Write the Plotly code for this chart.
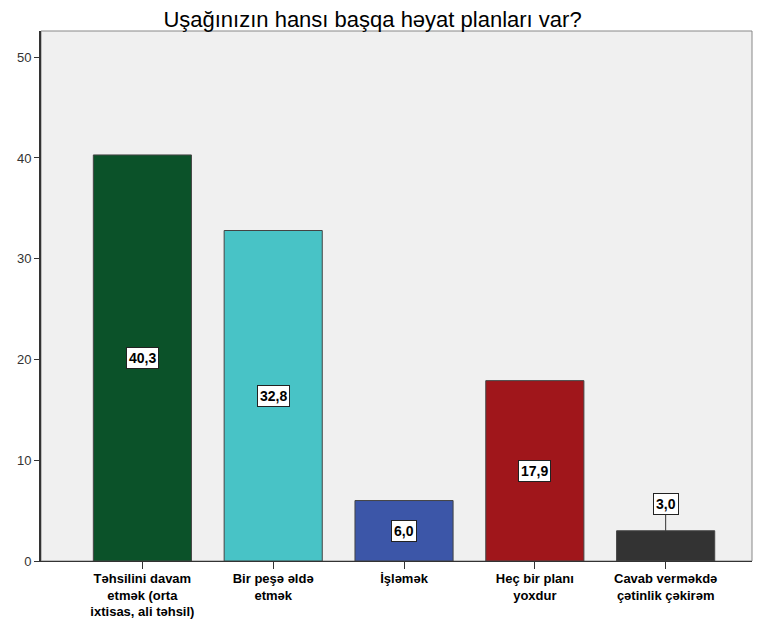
import plotly.graph_objects as go

categories = ["Təhsilini davam<br>etmək (orta<br>ixtisas, ali təhsil)",
              "Bir peşə əldə<br>etmək",
              "İşləmək",
              "Heç bir planı<br>yoxdur",
              "Cavab verməkdə<br>çətinlik çəkirəm"]
values = [40.3, 32.8, 6.0, 17.9, 3.0]
labels = ["40,3", "32,8", "6,0", "17,9", "3,0"]
colors = ["#0b5229", "#48c3c6", "#3c56a8", "#a0161b", "#333333"]
yticks = [0, 10, 20, 30, 40, 50]

FONT = "Liberation Sans, Arial"
xs = list(range(len(categories)))
fig = go.Figure()
fig.add_trace(go.Bar(x=xs, y=values, width=0.75,
                     marker=dict(color=colors, line=dict(color="#444444", width=1)),
                     hoverinfo="skip"))

for i, (v, t) in enumerate(zip(values, labels)):
    common = dict(text="<b>" + t + "</b>", bgcolor="white", bordercolor="#222222",
                  borderwidth=1, borderpad=2,
                  font=dict(family=FONT, size=14, color="black"))
    if v >= 5:
        fig.add_annotation(x=i, y=v / 2, showarrow=False, **common)
    else:
        fig.add_annotation(x=i, y=v, ax=i, ay=v + 2.65, axref="x", ayref="y",
                           showarrow=True, arrowhead=0, arrowwidth=1,
                           arrowcolor="#333333", standoff=0, **common)

# page body has an 8px margin, so the figure is sized to fit the window
fig.update_layout(
    width=765, height=611,
    margin=dict(l=33, r=21, t=23, b=58, autoexpand=False),
    paper_bgcolor="white", plot_bgcolor="#f0f0f0",
    showlegend=False,
    title=dict(text="Uşağınızın hansı başqa həyat planları var?", x=0.4765, xanchor="center",
               y=0.982, yanchor="middle",
               font=dict(family=FONT, size=22, color="black")),
    bargap=0.25,
)
fig.update_xaxes(range=[-0.775, 4.66], tickvals=xs, ticktext=["<b>" + c + "</b>" for c in categories],
                 ticks="outside", ticklen=7, tickcolor="#333333", tickwidth=1,
                 showline=True, linecolor="#333333", linewidth=1, mirror=False,
                 showgrid=False, zeroline=False, automargin=False,
                 ticklabelstandoff=-2,
                 tickfont=dict(family=FONT, size=13, color="black"))
fig.update_yaxes(range=[0, 52.6], tickvals=yticks, ticks="outside", ticklen=5,
                 tickcolor="#333333", tickwidth=1,
                 showline=True, linecolor="#333333", linewidth=2,
                 showgrid=False, zeroline=False, automargin=False,
                 tickfont=dict(family=FONT, size=13, color="#333333"))
fig.add_shape(type="rect", xref="paper", yref="paper", x0=0, y0=0, x1=1, y1=1,
              line=dict(color="#888888", width=1), layer="below")
fig.write_html("out.html")
